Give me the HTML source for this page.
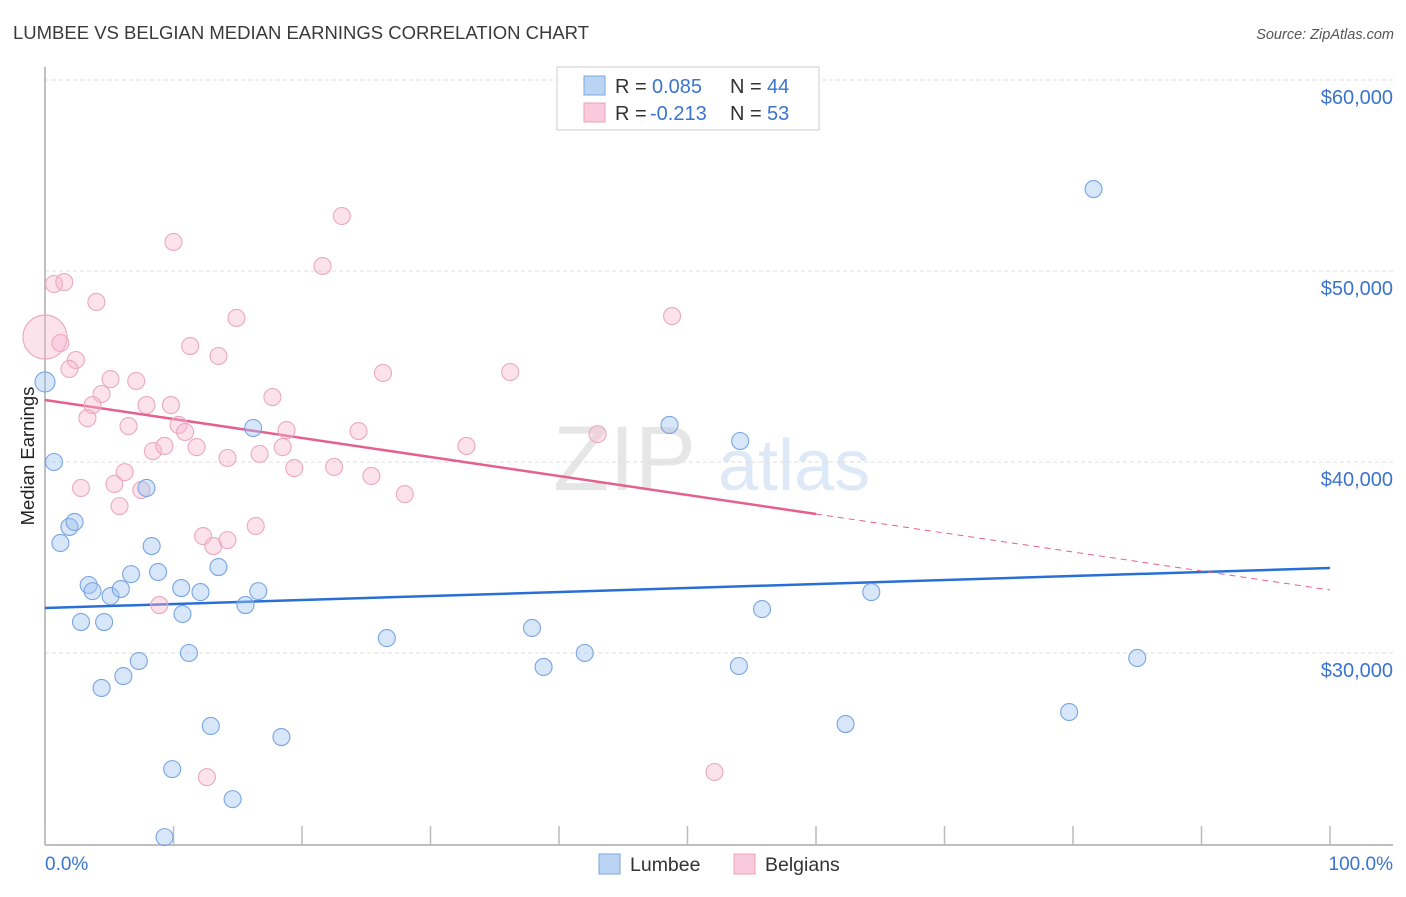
<!DOCTYPE html>
<html><head><meta charset="utf-8"><style>
body{margin:0;background:#fff;font-family:"Liberation Sans",sans-serif;}
svg text{font-family:"Liberation Sans",sans-serif;}
</style></head><body>
<svg id="chart" width="1406" height="892" xmlns="http://www.w3.org/2000/svg">
<text x="13" y="39" font-size="18.5" fill="#3a3a3a">LUMBEE VS BELGIAN MEDIAN EARNINGS CORRELATION CHART</text>
<text x="1394" y="39" font-size="14.5" fill="#555" text-anchor="end" font-style="italic">Source: ZipAtlas.com</text>
<g opacity="0.18">
<text x="553" y="490" font-size="92" font-family="Liberation Serif" fill="#777">ZIP</text>
<text x="718" y="490" font-size="72" fill="#4a8ad8">atlas</text>
</g>
<g id="grid"></g>
<g id="axes"></g>
<g id="trends"></g>
<g id="points"></g>
<g>
<rect x="557" y="67" width="262" height="63" fill="#fff" stroke="#ccc"/>
<rect x="584" y="76" width="21" height="19" fill="#bcd4f3" stroke="#7aa6e0"/>
<text x="615" y="93" font-size="20" fill="#333">R = </text><text x="652" y="93" font-size="20" fill="#3a74d0">0.085</text>
<text x="730" y="93" font-size="20" fill="#333">N = </text><text x="767" y="93" font-size="20" fill="#3a74d0">44</text>
<rect x="584" y="103" width="21" height="19" fill="#f9cadb" stroke="#e9a0b8"/>
<text x="615" y="120" font-size="20" fill="#333">R = </text><text x="650" y="120" font-size="20" fill="#3a74d0">-0.213</text>
<text x="730" y="120" font-size="20" fill="#333">N = </text><text x="767" y="120" font-size="20" fill="#3a74d0">53</text>
</g>
<g>
<rect x="599" y="854" width="21" height="20" fill="#bcd4f3" stroke="#7aa6e0"/>
<text x="630" y="871" font-size="19.5" fill="#333">Lumbee</text>
<rect x="734" y="854" width="21" height="20" fill="#f9cadb" stroke="#e9a0b8"/>
<text x="765" y="871" font-size="19.5" fill="#333">Belgians</text>
</g>
<text transform="translate(34,456) rotate(-90)" font-size="18.5" fill="#222" text-anchor="middle">Median Earnings</text>
<text x="45" y="870" font-size="19" fill="#3a74d0">0.0%</text>
<text x="1393" y="870" font-size="19" fill="#3a74d0" text-anchor="end">100.0%</text>
</svg>
<script>
const yTicks=[30000,40000,50000,60000];
const yTickLabels=["$30,000","$40,000","$50,000","$60,000"];
const xTicks=[0,10,20,30,40,50,60,70,80,90,100];
const lumbeeX=[0.0,0.7,1.9,2.3,1.2,3.4,3.7,2.8,4.6,5.1,5.9,6.7,7.3,6.1,4.4,8.3,8.8,7.9,10.6,10.7,11.2,12.1,13.5,12.9,15.6,16.6,16.2,18.4,14.6,9.9,9.3,26.6,37.9,38.8,42.0,48.6,54.1,54.0,55.8,62.3,64.3,79.7,81.6,85.0];
const lumbeeY=[44190,40000,36600,36860,35760,33560,33240,31620,31620,32980,33350,34130,29580,28790,28170,35600,34240,38640,33400,32040,30000,33190,34500,26180,32510,33240,41780,25600,22350,23920,20360,30780,31310,29270,30000,41940,41100,29320,32300,26280,33190,26910,54290,29740];
const belgX=[0.0,0.7,1.5,4.0,1.2,2.4,1.9,3.3,3.7,4.4,5.1,7.1,6.2,5.4,5.8,2.8,6.5,7.9,8.4,9.3,9.8,10.4,10.9,11.8,11.3,10.0,13.5,14.9,14.2,12.3,13.1,14.2,16.4,16.7,18.5,18.8,19.4,17.7,22.5,21.6,23.1,24.4,26.3,25.4,28.0,8.9,7.5,32.8,36.2,43.0,48.8,12.6,52.1];
const belgY=[46540,49320,49420,48380,46230,45340,44870,42300,42980,43560,44340,44240,39470,38850,37690,38640,41880,42980,40570,40840,42980,41940,41570,40780,46070,51520,45550,47540,40210,36120,35600,35910,36650,40420,40780,41670,39680,43400,39740,50260,52880,41620,44660,39270,38320,32510,38530,40840,44710,41460,47640,23500,23770];
const lumbeeTrend=[32355,34450];
const belgTrend=[43245,33300];
const belgSolidEnd=60;
const NS='http://www.w3.org/2000/svg';
const X0=45,X1=1330,Y60=80,PXPER=191/10000;
function xs(v){return X0+(X1-X0)*v/100;}
function ys(v){return Y60+(60000-v)*PXPER;}
function mk(tag,attrs,parent){const e=document.createElementNS(NS,tag);for(const k in attrs)e.setAttribute(k,attrs[k]);parent.appendChild(e);return e;}
const grid=document.getElementById('grid'),axes=document.getElementById('axes'),tr=document.getElementById('trends'),pts=document.getElementById('points');
yTicks.forEach((t,i)=>{
  const l=mk('line',{x1:X0,x2:1393,y1:ys(t),y2:ys(t),stroke:'#ddd','stroke-dasharray':'4,3'},grid);
  
  
  const tx=mk('text',{x:1393,y:ys(t)+24,'font-size':20,fill:'#3a74d0','text-anchor':'end'},grid);
  tx.textContent=yTickLabels[i];
  
  
});
const ya=mk('line',{x1:X0,x2:X0,y1:67,y2:845,stroke:'#aaa','stroke-width':1.5},axes);


const xa=mk('line',{x1:X0,x2:1393,y1:845,y2:845,stroke:'#aaa','stroke-width':1.5},axes);


xTicks.forEach(t=>{
  const l=mk('line',{x1:xs(t),x2:xs(t),y1:826,y2:845,stroke:'#bbb','stroke-width':1.5},axes);
  
  
});
function dot(x,y,r,fill,stroke,name){
  const c=mk('circle',{cx:xs(x),cy:ys(y),r:r,fill:fill,stroke:stroke,'stroke-width':1.1},pts);
  
  
}
belgX.forEach((x,i)=>dot(x,belgY[i],i===0?22:8.5,'rgba(246,182,204,0.4)','#eba8bf','belgians-point'));
lumbeeX.forEach((x,i)=>dot(x,lumbeeY[i],i===0?10:8.5,'rgba(160,196,240,0.42)','#78a5e2','lumbee-point'));
const bl=mk('line',{x1:xs(0),y1:ys(lumbeeTrend[0]),x2:xs(100),y2:ys(lumbeeTrend[1]),stroke:'#2a6fd6','stroke-width':2.5},tr);


const pe=belgTrend[0]+(belgTrend[1]-belgTrend[0])*belgSolidEnd/100;
const pl=mk('line',{x1:xs(0),y1:ys(belgTrend[0]),x2:xs(belgSolidEnd),y2:ys(pe),stroke:'#e4608e','stroke-width':2.5},tr);


const pd=mk('line',{x1:xs(belgSolidEnd),y1:ys(pe),x2:xs(100),y2:ys(belgTrend[1]),stroke:'#e4608e','stroke-width':1,'stroke-dasharray':'6,5'},tr);


</script>
</body></html>
